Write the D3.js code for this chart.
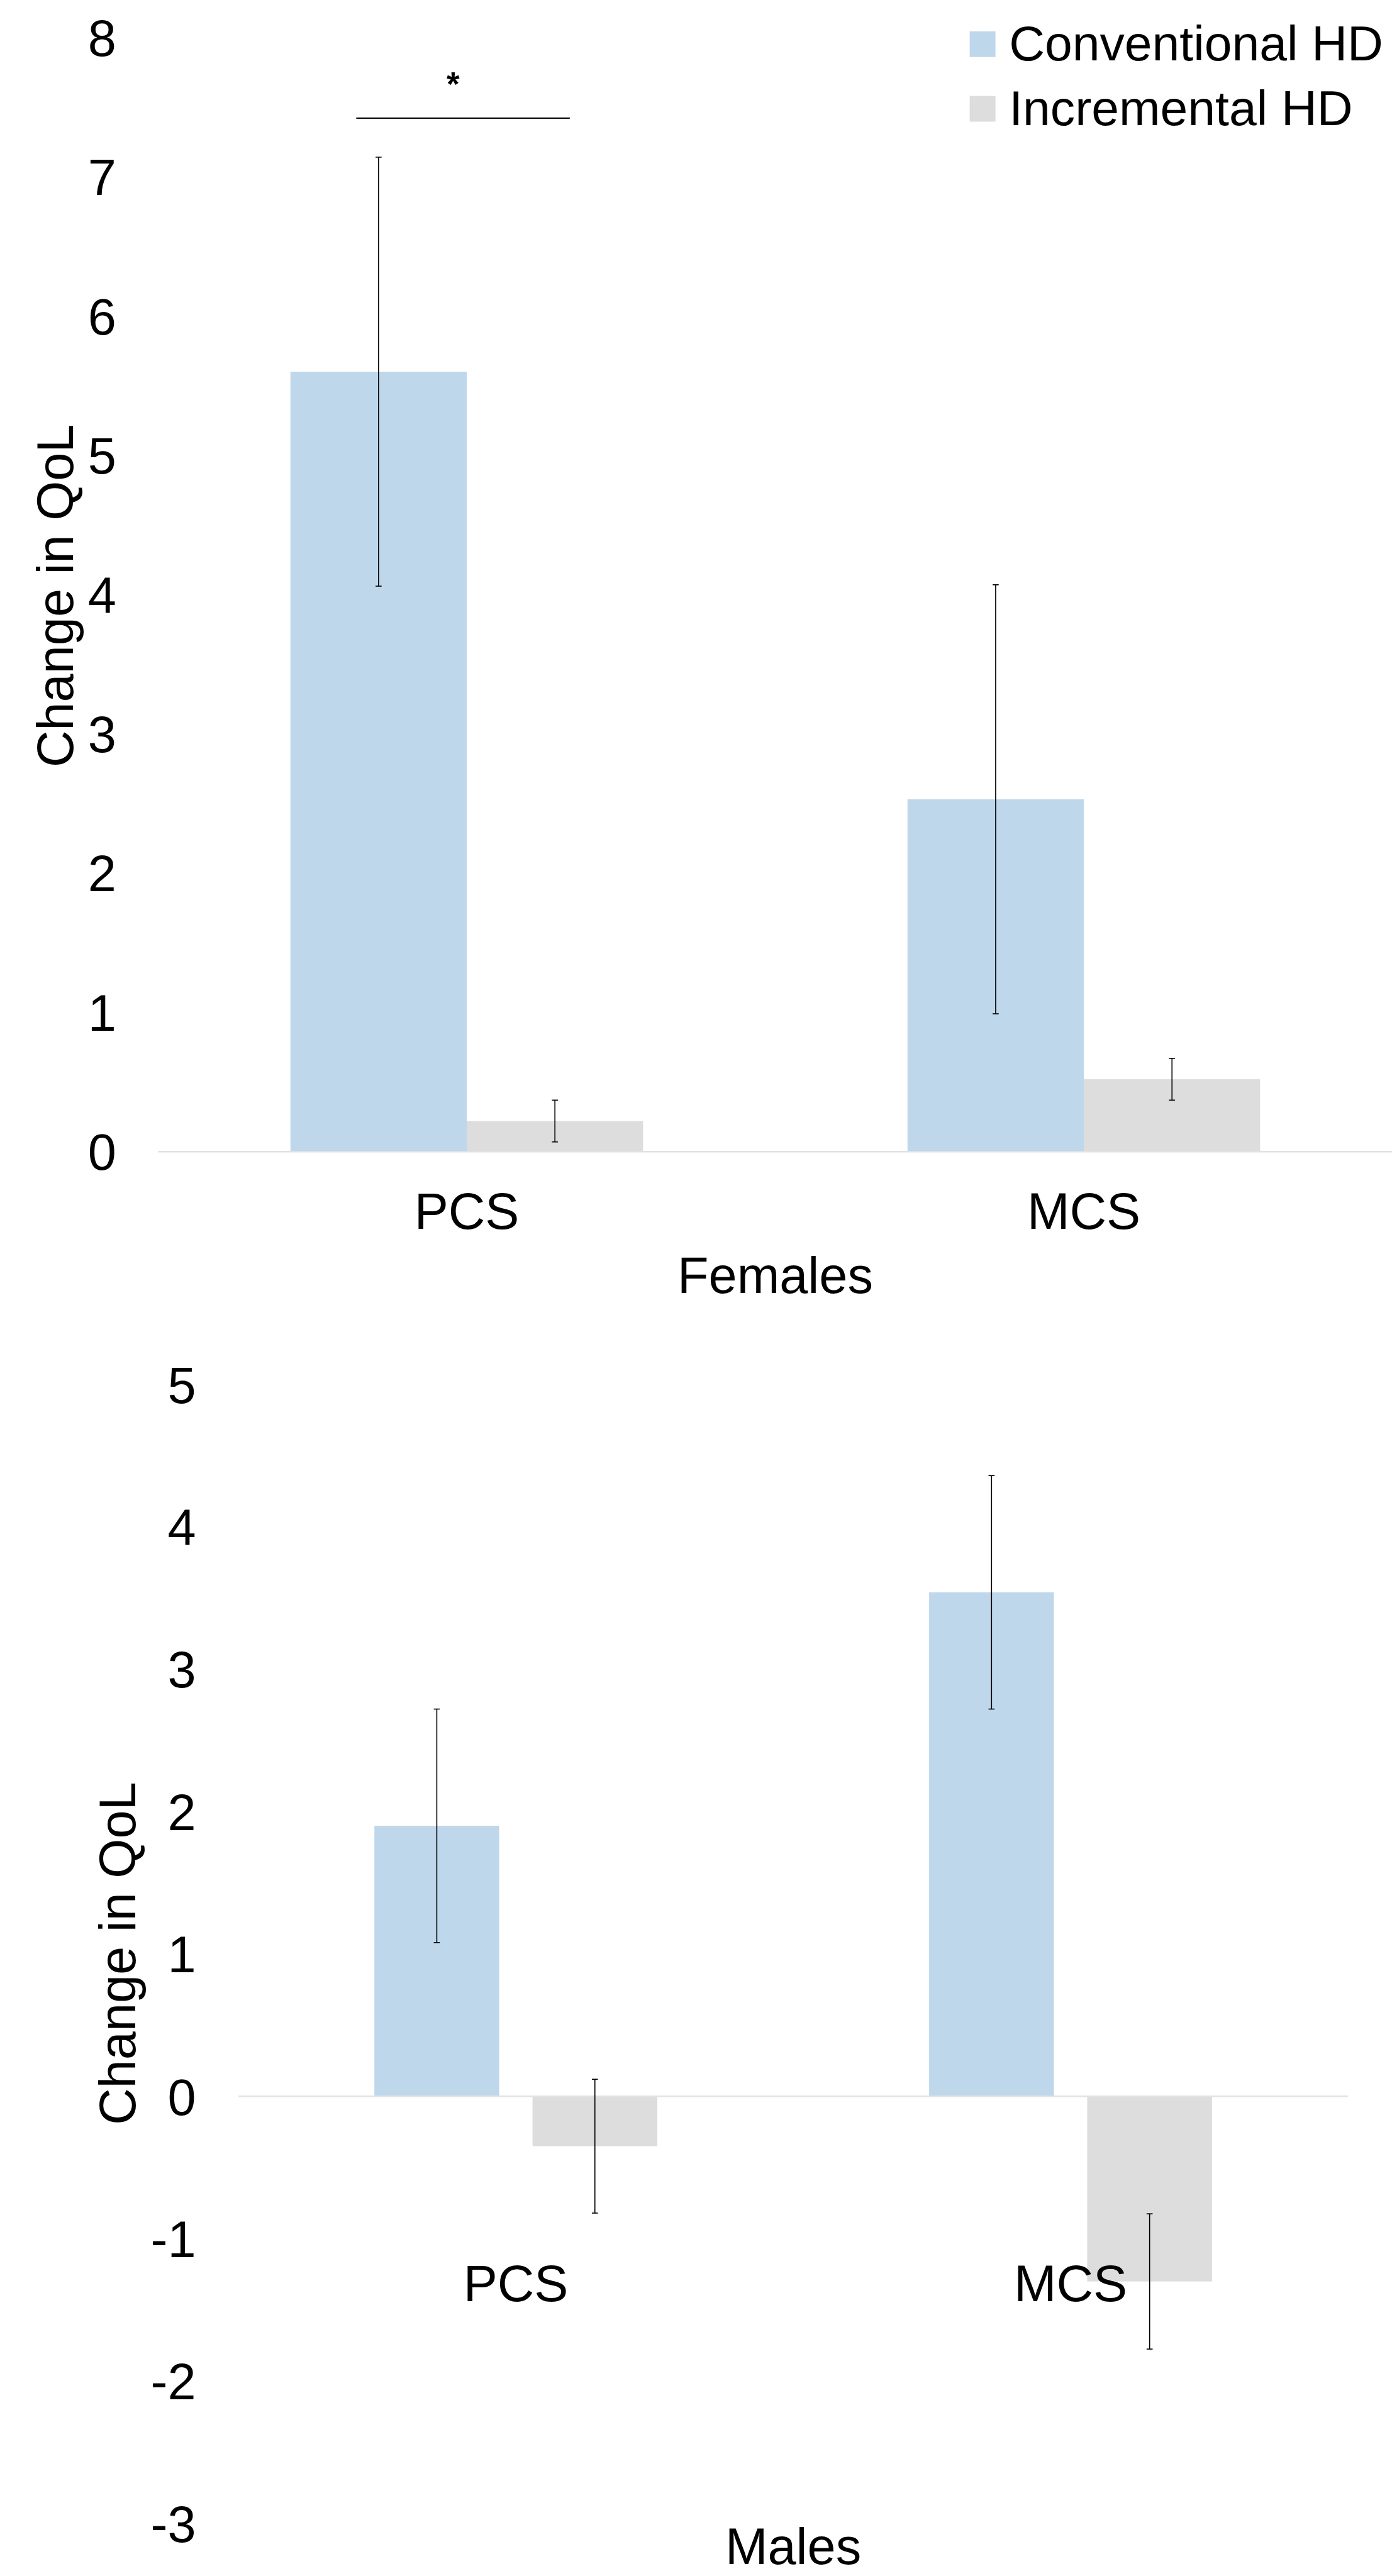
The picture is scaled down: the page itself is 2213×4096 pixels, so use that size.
<!DOCTYPE html>
<html>
<head>
<meta charset="utf-8">
<script src="https://cdn.jsdelivr.net/npm/d3@7"></script>
<style>
  body { margin: 0; background: #fff; }
  svg text { font-family: "Liberation Sans", Arial, sans-serif; fill: #000; }
</style>
</head>
<body>
<div id="container"></div>
<script>
// values
const categories = ["PCS", "MCS"];
const seriesNames = ["Conventional HD", "Incremental HD"];
const seriesColors = ["#bfd7eb", "#dddddd"];

const femalesConv = [5.60, 2.53];
const femalesConvErr = [1.54, 1.54];
const femalesInc = [0.22, 0.52];
const femalesIncErr = [0.15, 0.15];
const femalesTicks = [0, 1, 2, 3, 4, 5, 6, 7, 8];

const malesConv = [1.90, 3.54];
const malesConvErr = [0.82, 0.82];
const malesInc = [-0.35, -1.30];
const malesIncErr = [0.47, 0.475];
const malesTicks = [-3, -2, -1, 0, 1, 2, 3, 4, 5];

// significance bracket over females PCS: value level and span within the band
const sigLevel = 7.42;
const sigSpan = [0.321, 0.667];
const sigStarLevel = 7.58;
const sigStarPos = 0.478;

// reference is 2756 x 5102, drawn into the window at 0.802
const W = 2756, H = 5102;
const svg = d3.select("#container")
              .append("svg")
              .attr("width", 2213)
              .attr("height", 4096)
              .attr("viewBox", "0 0 " + W + " " + H);

const fs = 101;

function drawPanel(p){
  const x = d3.scaleBand()
              .domain(categories)
              .range(p.xRange)
              .paddingInner(0)
              .paddingOuter(0);
  const y = d3.scaleLinear()
              .domain(d3.extent(p.ticks))
              .range(p.yRange);
  const bw = x.bandwidth();
  const barW = bw * p.barFrac;
  const gap = bw * p.gapFrac;

  const series = [
    {vals: p.conv, errs: p.convErr, color: seriesColors[0]},
    {vals: p.inc, errs: p.incErr, color: seriesColors[1]}
  ];

  const g = svg.append("g");

  series.forEach((s, si) => {
    const xOf = (c) => x(c) + bw / 2 - (2 * barW + gap) / 2 + si * (barW + gap);
    g.selectAll(null)
     .data(categories)
     .enter()
     .append("rect")
     .attr("x", (c) => xOf(c))
     .attr("width", barW)
     .attr("y", (c, i) => y(Math.max(0, s.vals[i])))
     .attr("height", (c, i) => Math.abs(y(s.vals[i]) - y(0)))
     .attr("fill", s.color);
  });

  // zero line
  g.append("line")
   .attr("x1", p.xRange[0])
   .attr("x2", p.xRange[1])
   .attr("y1", y(0))
   .attr("y2", y(0))
   .attr("stroke", "#e2e2e2")
   .attr("stroke-width", 3);

  // error bars
  series.forEach((s, si) => {
    const cx = (c) => x(c) + bw / 2 - (2 * barW + gap) / 2 + si * (barW + gap) + barW / 2;
    categories.forEach((c, i) => {
      const hi = y(s.vals[i] + s.errs[i]);
      const lo = y(s.vals[i] - s.errs[i]);
      g.append("line")
       .attr("x1", cx(c)).attr("x2", cx(c))
       .attr("y1", hi).attr("y2", lo)
       .attr("stroke", "#000").attr("stroke-width", 2);
      [hi, lo].forEach((yy) => {
        g.append("line")
         .attr("x1", cx(c) - 6).attr("x2", cx(c) + 6)
         .attr("y1", yy).attr("y2", yy)
         .attr("stroke", "#000").attr("stroke-width", 2);
      });
    });
  });

  // y axis labels (plain hyphen minus, like the original)
  const yAxis = d3.axisLeft(y)
                  .tickValues(p.ticks)
                  .tickFormat((d) => String(d))
                  .tickSize(0)
                  .tickPadding(0);
  const ya = g.append("g")
              .attr("transform", "translate(" + p.yLabelX + ",0)")
              .call(yAxis);
  ya.select(".domain").remove();
  ya.selectAll("text")
    .attr("font-size", fs)
    .attr("font-family", "Liberation Sans, Arial, sans-serif")
    .attr("fill", "#000")
    .attr("dy", "0.355em");

  // x axis labels
  const xAxis = d3.axisBottom(x).tickSize(0).tickPadding(0);
  const xa = g.append("g")
              .attr("transform", "translate(0," + p.xLabelY + ")")
              .call(xAxis);
  xa.select(".domain").remove();
  xa.selectAll("text")
    .attr("font-size", fs)
    .attr("font-family", "Liberation Sans, Arial, sans-serif")
    .attr("fill", "#000")
    .attr("y", 0)
    .attr("dy", 0);

  // axis titles
  g.append("text")
   .attr("text-anchor", "middle")
   .attr("font-size", fs)
   .attr("x", (p.xRange[0] + p.xRange[1]) / 2)
   .attr("y", p.titleY)
   .text(p.title);

  g.append("text")
   .attr("text-anchor", "middle")
   .attr("font-size", fs)
   .attr("transform", "translate(" + p.yTitleX + "," + p.yTitleY + ") rotate(-90)")
   .text("Change in QoL");

  return {x: x, y: y, g: g};
}

const femalesPanel = drawPanel({
  conv: femalesConv, convErr: femalesConvErr,
  inc: femalesInc, incErr: femalesIncErr,
  ticks: femalesTicks,
  xRange: [313, 2757], yRange: [2281, 74],
  barFrac: 1 / 3.5, gapFrac: 0,
  yLabelX: 230, xLabelY: 2434,
  title: "Females", titleY: 2561,
  yTitleX: 144, yTitleY: 1180
});

drawPanel({
  conv: malesConv, convErr: malesConvErr,
  inc: malesInc, incErr: malesIncErr,
  ticks: malesTicks,
  xRange: [472, 2669], yRange: [4998, 2742],
  barFrac: 0.225, gapFrac: 0.06,
  yLabelX: 388, xLabelY: 4558,
  title: "Males", titleY: 5078,
  yTitleX: 268, yTitleY: 3869
});

// significance bracket
const bx = femalesPanel.x("PCS"), bwTop = femalesPanel.x.bandwidth();
femalesPanel.g.append("line")
   .attr("x1", bx + bwTop * sigSpan[0])
   .attr("x2", bx + bwTop * sigSpan[1])
   .attr("y1", femalesPanel.y(sigLevel))
   .attr("y2", femalesPanel.y(sigLevel))
   .attr("stroke", "#111")
   .attr("stroke-width", 3);
femalesPanel.g.append("text")
   .attr("text-anchor", "middle")
   .attr("font-size", 66)
   .attr("font-weight", "bold")
   .attr("x", bx + bwTop * sigStarPos)
   .attr("y", femalesPanel.y(sigStarLevel))
   .text("*");

// legend
const legend = svg.append("g").attr("transform", "translate(1920,62)");
legend.selectAll("rect")
      .data(seriesNames)
      .enter()
      .append("rect")
      .attr("x", 0)
      .attr("y", (d, i) => i * 128)
      .attr("width", 51)
      .attr("height", 51)
      .attr("fill", (d, i) => seriesColors[i]);
legend.selectAll("text")
      .data(seriesNames)
      .enter()
      .append("text")
      .attr("x", 78)
      .attr("y", (d, i) => 58 + i * 128)
      .attr("font-size", 98)
      .text((d) => d);
</script>
</body>
</html>
